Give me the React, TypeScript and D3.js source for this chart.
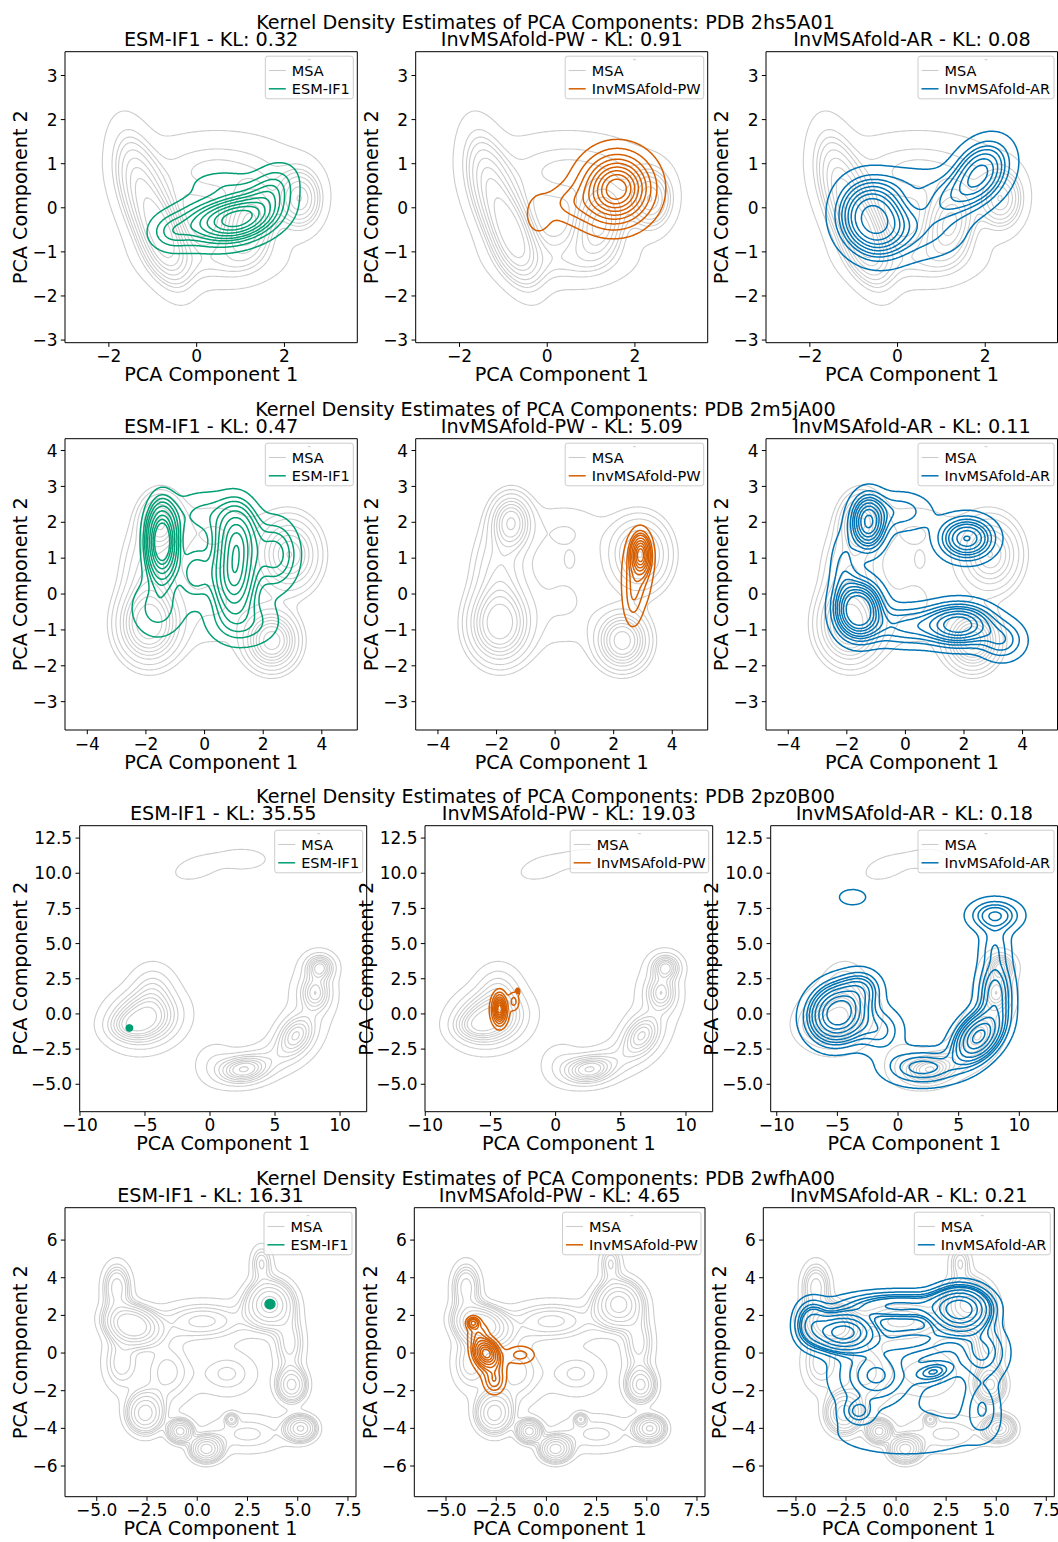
import React, { useMemo } from "react";
import * as d3 from "d3";

// ---------------- data ----------------
const PDB_IDS = ["2hs5A01", "2m5jA00", "2pz0B00", "2wfhA00"];
const MODELS = ["ESM-IF1", "InvMSAfold-PW", "InvMSAfold-AR"];
const KL_VALUES = [
  ["0.32", "0.91", "0.08"],
  ["0.47", "5.09", "0.11"],
  ["35.55", "19.03", "0.18"],
  ["16.31", "4.65", "0.21"],
];
const X_TICKS = [
  [-2, 0, 2],
  [-4, -2, 0, 2, 4],
  [-10, -5, 0, 5, 10],
  [-5, -2.5, 0, 2.5, 5, 7.5],
];
const Y_TICKS = [
  [-3, -2, -1, 0, 1, 2, 3],
  [-3, -2, -1, 0, 1, 2, 3, 4],
  [-5, -2.5, 0, 2.5, 5, 7.5, 10, 12.5],
  [-6, -4, -2, 0, 2, 4, 6],
];
const X_TICK_DECIMALS = [0, 0, 0, 1];
const Y_TICK_DECIMALS = [0, 0, 1, 0];
const X_DOMAINS = [
  [[-3.0, 3.66], [-3.0, 3.66], [-3.0, 3.66]],
  [[-4.76, 5.21], [-4.76, 5.21], [-4.76, 5.21]],
  [[-10.02, 12.05], [-10.02, 12.05], [-10.5, 13.19]],
  [[-6.58, 7.9], [-6.58, 7.9], [-6.63, 7.9]],
];
const Y_DOMAINS = [
  [-3.06, 3.54],
  [-3.79, 4.33],
  [-6.95, 13.38],
  [-7.63, 7.72],
];

// Gaussian mixture components: [mx, my, sx, sy, rho, weight]
type Comp = number[];
const MSA_2HS5: Comp[] = [
  [-0.8, -0.6, 0.35, 0.65, -0.5, 0.25],
  [-1.35, 0.6, 0.35, 0.75, -0.4, 0.15],
  [1.2, -0.35, 0.35, 0.5, 0.2, 0.15],
  [2.35, 0.2, 0.3, 0.4, 0, 0.1],
  [0.5, 0.85, 1.1, 0.5, 0, 0.15],
  [0.4, -1.15, 0.9, 0.38, 0, 0.1],
  [0.2, 0, 1.4, 1.0, 0, 0.1],
];
const ESM_2HS5: Comp[] = [
  [0.95, -0.25, 0.55, 0.33, 0.3, 0.62],
  [0.0, -0.3, 0.5, 0.35, 0.3, 0.15],
  [1.7, 0.4, 0.35, 0.35, 0.3, 0.12],
  [-0.6, -0.55, 0.3, 0.25, 0, 0.05],
  [0.6, 0.55, 0.5, 0.2, 0, 0.04],
];
const PW_2HS5: Comp[] = [
  [1.6, 0.45, 0.45, 0.45, 0, 0.8],
  [1.2, 0.1, 0.5, 0.4, 0, 0.1],
  [-0.2, -0.15, 0.2, 0.3, 0, 0.025],
  [0.5, 0.1, 0.35, 0.25, 0, 0.04],
];
const AR_2HS5: Comp[] = [
  [-0.55, -0.25, 0.45, 0.48, -0.1, 0.52],
  [1.9, 0.85, 0.4, 0.42, 0.3, 0.2],
  [1.3, 0.2, 0.6, 0.4, 0.5, 0.13],
  [0.5, -0.6, 0.7, 0.38, 0, 0.1],
  [0.3, 0.55, 0.7, 0.28, 0, 0.05],
];

const MSA_2M5J: Comp[] = [
  [-1.9, -0.85, 0.6, 0.6, 0, 0.25],
  [-1.5, 2.0, 0.4, 0.45, 0, 0.1],
  [-1.9, 0.6, 0.55, 0.8, 0, 0.1],
  [2.3, -1.3, 0.5, 0.45, 0, 0.15],
  [2.9, 1.1, 0.6, 0.6, 0, 0.17],
  [0.5, 0.95, 0.1, 0.13, 0, 0.0007],
  [0.3, -0.2, 1.2, 1.0, 0, 0.1],
  [0.3, 1.8, 1.2, 0.6, 0, 0.05],
];
const ESM_2M5J: Comp[] = [
  [-1.45, 1.45, 0.3, 0.6, 0, 0.26],
  [1.1, 1.5, 0.42, 0.6, 0, 0.2],
  [1.0, 0.4, 0.42, 0.6, 0, 0.2],
  [2.4, 1.1, 0.5, 0.6, 0, 0.1],
  [-1.6, -0.4, 0.6, 0.55, 0, 0.06],
  [1.3, -0.8, 0.8, 0.45, 0, 0.07],
  [0.0, 2.2, 0.8, 0.45, 0, 0.06],
  [-0.3, 0.6, 0.4, 0.5, 0, 0.05],
];
const PW_2M5J: Comp[] = [
  [2.92, 1.1, 0.18, 0.3, 0, 0.6],
  [2.8, 0.6, 0.28, 0.55, 0, 0.3],
  [2.65, -0.2, 0.2, 0.45, 0, 0.1],
];
const AR_2M5J: Comp[] = [
  [-1.6, -0.45, 0.45, 0.45, 0, 0.25],
  [1.85, -0.85, 0.7, 0.35, 0, 0.2],
  [-1.27, 2.0, 0.35, 0.45, 0, 0.14],
  [2.1, 1.55, 0.55, 0.35, 0, 0.14],
  [0.0, -0.9, 0.9, 0.35, 0, 0.1],
  [3.3, -1.3, 0.5, 0.35, 0, 0.05],
  [-0.2, 2.3, 0.7, 0.35, 0, 0.05],
  [-2.1, 0.6, 0.3, 0.7, 0, 0.04],
];

const MSA_2PZ0: Comp[] = [
  [-5.0, -0.3, 1.5, 1.1, 0.1, 0.36],
  [-4.4, 1.8, 1.0, 1.0, 0, 0.06],
  [-6.3, -0.9, 1.0, 0.6, 0, 0.04],
  [2.55, -3.95, 1.1, 0.6, 0.15, 0.12],
  [4.8, -3.2, 1.5, 0.9, 0.4, 0.06],
  [6.6, -1.5, 0.9, 0.9, 0.3, 0.12],
  [8.1, 1.5, 0.7, 0.8, 0, 0.08],
  [8.45, 3.3, 0.65, 0.55, 0, 0.06],
  [7.8, 1.0, 1.3, 2.0, 0, 0.05],
  [-1.0, 10.4, 1.2, 0.6, 0.4, 0.016],
  [2.5, 11.0, 1.4, 0.55, 0, 0.016],
  [0.5, -3.6, 1.0, 0.9, 0, 0.03],
];
const ESM_2PZ0: Comp[] = [[-6.2, -1.0, 0.1, 0.09, 0, 1]];
const PW_2PZ0: Comp[] = [
  [-4.3, 0.35, 0.25, 0.5, 0, 0.6],
  [-4.3, 0.3, 0.4, 0.7, 0, 0.3],
  [-3.2, 0.9, 0.25, 0.4, 0, 0.06],
  [-2.9, 1.6, 0.08, 0.12, 0, 0.01],
];
const AR_2PZ0: Comp[] = [
  [-4.9, 0.05, 1.4, 1.2, 0.1, 0.36],
  [6.6, -1.65, 1.2, 1.1, 0.4, 0.22],
  [8.0, 1.5, 0.9, 1.5, 0, 0.1],
  [8.0, 7.0, 1.3, 0.7, 0, 0.06],
  [8.0, 4.8, 0.8, 1.0, 0, 0.025],
  [2.0, -3.8, 2.0, 0.8, 0, 0.09],
  [-3.75, 8.3, 0.9, 0.45, 0, 0.008],
  [-1.5, -1.2, 1.2, 1.0, 0, 0.05],
  [-3.0, 1.8, 1.0, 0.8, 0, 0.04],
];

const MSA_2WFH: Comp[] = [
  [-3.25, 1.5, 0.75, 0.6, -0.2, 0.14],
  [-4.0, 3.5, 0.45, 0.8, 0, 0.04],
  [3.6, 2.6, 0.7, 0.75, 0, 0.13],
  [3.2, 4.8, 0.35, 0.6, 0, 0.015],
  [-2.6, -3.2, 0.55, 0.65, 0, 0.07],
  [-0.85, -4.15, 0.35, 0.35, 0, 0.03],
  [0.45, -5.1, 0.45, 0.4, 0, 0.045],
  [1.7, -3.5, 0.2, 0.2, 0, 0.003],
  [4.7, -1.7, 0.45, 0.55, 0, 0.045],
  [5.15, -4.0, 0.45, 0.4, 0, 0.04],
  [1.5, -1.1, 1.0, 0.8, 0, 0.04],
  [0.3, 1.7, 1.5, 0.7, 0, 0.08],
  [-1.5, -1.0, 0.9, 1.2, 0, 0.07],
  [2.5, -4.3, 1.4, 0.7, 0, 0.05],
  [4.6, 0.5, 0.5, 1.0, 0, 0.04],
  [-3.8, -0.5, 0.6, 1.0, 0, 0.04],
];
const ESM_2WFH: Comp[] = [[3.62, 2.6, 0.1, 0.1, 0, 1]];
const PW_2WFH: Comp[] = [
  [-3.0, 0.0, 0.3, 0.35, -0.2, 0.4],
  [-2.9, -0.3, 0.45, 0.6, -0.3, 0.25],
  [-3.65, 1.6, 0.18, 0.18, 0, 0.04],
  [-2.6, -1.5, 0.3, 0.4, 0, 0.08],
  [-1.3, -0.1, 0.45, 0.3, 0, 0.06],
  [-3.4, 1.0, 0.3, 0.4, 0, 0.06],
];
const AR_2WFH: Comp[] = [
  [-2.65, 1.1, 0.85, 0.55, 0, 0.18],
  [3.2, 2.3, 0.8, 0.65, 0, 0.21],
  [0.2, 2.5, 1.8, 0.45, 0, 0.1],
  [1.9, -1.0, 0.6, 0.35, 0.3, 0.015],
  [-1.9, -3.1, 0.45, 0.4, 0, 0.01],
  [4.3, -2.9, 0.55, 0.9, 0, 0.025],
  [0.5, -4.3, 2.8, 0.9, 0, 0.07],
  [-1.0, -1.2, 1.3, 1.1, 0, 0.12],
  [4.3, 0.0, 0.8, 0.9, 0, 0.05],
  [-4.2, 1.6, 0.5, 0.7, 0, 0.04],
  [1.0, 0.7, 1.5, 0.6, 0, 0.06],
];

const MSA_MIXTURES = [MSA_2HS5, MSA_2M5J, MSA_2PZ0, MSA_2WFH];
const MODEL_MIXTURES = [
  [ESM_2HS5, PW_2HS5, AR_2HS5],
  [ESM_2M5J, PW_2M5J, AR_2M5J],
  [ESM_2PZ0, PW_2PZ0, AR_2PZ0],
  [ESM_2WFH, PW_2WFH, AR_2WFH],
];

// ---------------- style / layout ----------------
const MODEL_COLORS = ["#029e73", "#d55e00", "#0173b2"];
const MSA_COLOR = "#cccccc";
const FONT = "DejaVu Sans";
const ROW_LAYOUT = [
  { top: 51.7, bottom: 342.7, xs: [[65, 357.3], [415.7, 707.7], [766, 1058]], ylabOff: 37.7 },
  { top: 438.7, bottom: 730, xs: [[65, 357.3], [415.7, 707.7], [766, 1058]], ylabOff: 37.7 },
  { top: 825.7, bottom: 1111.7, xs: [[79.7, 366.7], [425, 712.7], [770.7, 1058]], ylabOff: 52.5 },
  { top: 1207.7, bottom: 1496.7, xs: [[65, 356], [414.3, 705], [763.3, 1054.3]], ylabOff: 37.7 },
];
const LEGEND_W = [88, 138.5, 136];
const LEVEL_COUNT = 10;
const THRESH = 0.05;
const TICK_FS = 17;

function fmtTick(v: number, dec: number) {
  const s = Math.abs(v).toFixed(dec);
  return (v < 0 ? "\u2212" : "") + s;
}

type Geo = number[][][][]; // polygons -> rings -> points (data coords)

function kdeContours(comps: Comp[], n = 220): Geo[] {
  let x0 = Infinity, x1 = -Infinity, y0 = Infinity, y1 = -Infinity;
  for (const c of comps) {
    x0 = Math.min(x0, c[0] - 4.5 * c[2]);
    x1 = Math.max(x1, c[0] + 4.5 * c[2]);
    y0 = Math.min(y0, c[1] - 4.5 * c[3]);
    y1 = Math.max(y1, c[1] + 4.5 * c[3]);
  }
  const nx = n, ny = n;
  const dx = (x1 - x0) / (nx - 1), dy = (y1 - y0) / (ny - 1);
  const pre = comps.map(([mx, my, sx, sy, r, w]) => {
    const k = 1 - r * r;
    return { mx, my, sx, sy, r, k, a: w / (2 * Math.PI * sx * sy * Math.sqrt(k)) };
  });
  const vals = new Array(nx * ny);
  for (let j = 0; j < ny; j++) {
    const y = y0 + j * dy;
    for (let i = 0; i < nx; i++) {
      const x = x0 + i * dx;
      let s = 0;
      for (const c of pre) {
        const u = (x - c.mx) / c.sx, v = (y - c.my) / c.sy;
        const z = (u * u - 2 * c.r * u * v + v * v) / c.k;
        if (z < 80) s += c.a * Math.exp(-0.5 * z);
      }
      vals[j * nx + i] = s;
    }
  }
  const sorted = Float64Array.from(vals).sort().reverse();
  let total = 0;
  for (let i = 0; i < sorted.length; i++) total += sorted[i];
  const cum = new Float64Array(sorted.length);
  let acc = 0;
  for (let i = 0; i < sorted.length; i++) { acc += sorted[i]; cum[i] = acc / total; }
  const qs = d3.range(LEVEL_COUNT).map((i) => THRESH + (i * (1 - THRESH)) / (LEVEL_COUNT - 1));
  const levels = qs.slice(0, -1).map((q) => {
    let idx = d3.bisectLeft(cum as any, 1 - q);
    idx = Math.min(idx, sorted.length - 1);
    return sorted[idx];
  });
  const cs = d3.contours().size([nx, ny]).thresholds(levels)(vals);
  return cs.map((c: any) =>
    c.coordinates.map((poly: number[][][]) =>
      poly.map((ring: number[][]) => ring.map(([gx, gy]) => [x0 + (gx - 0.5) * dx, y0 + (gy - 0.5) * dy]))
    )
  );
}

function geoPath(geo: Geo, sx: (v: number) => number, sy: (v: number) => number) {
  let d = "";
  for (const poly of geo)
    for (const ring of poly) {
      d += "M" + ring.map((p) => sx(p[0]).toFixed(2) + "," + sy(p[1]).toFixed(2)).join("L") + "Z";
    }
  return d;
}

function Panel({ row, col, msaGeo, modelGeo }: any) {
  const lay = ROW_LAYOUT[row];
  const [left, right] = lay.xs[col];
  const top = lay.top, bottom = lay.bottom;
  const xs = d3.scaleLinear().domain(X_DOMAINS[row][col]).range([left, right]);
  const ys = d3.scaleLinear().domain(Y_DOMAINS[row]).range([bottom, top]);
  const clipId = `clip-${row}-${col}`;
  const color = MODEL_COLORS[col];
  const lw = LEGEND_W[col];
  const boxR = right - 4;
  const boxL = boxR - lw;
  const boxT = top + 4.5;
  const rightSpine = Math.min(right, 1057.5);
  return (
    <g>
      <clipPath id={clipId}>
        <rect x={left} y={top} width={right - left} height={bottom - top} />
      </clipPath>
      <g clipPath={`url(#${clipId})`} fill="none" strokeLinejoin="round">
        {msaGeo.map((g: Geo, i: number) => (
          <path key={"m" + i} d={geoPath(g, xs, ys)} stroke={MSA_COLOR} strokeWidth={1.1} />
        ))}
        {modelGeo.map((g: Geo, i: number) => (
          <path key={"g" + i} d={geoPath(g, xs, ys)} stroke={color} strokeWidth={1.5} />
        ))}
      </g>
      <path
        d={`M${left},${top}H${rightSpine}V${bottom}H${left}Z`}
        fill="none"
        stroke="#000"
        strokeWidth={1}
      />
      {X_TICKS[row].map((t) => (
        <g key={"xt" + t}>
          <line x1={xs(t)} x2={xs(t)} y1={bottom} y2={bottom + 4.2} stroke="#000" strokeWidth={1} />
          <text x={xs(t)} y={bottom + 19.5} textAnchor="middle" fontSize={TICK_FS} fontFamily={FONT}>
            {fmtTick(t, X_TICK_DECIMALS[row])}
          </text>
        </g>
      ))}
      {Y_TICKS[row].map((t) => (
        <g key={"yt" + t}>
          <line x1={left - 4.2} x2={left} y1={ys(t)} y2={ys(t)} stroke="#000" strokeWidth={1} />
          <text x={left - 7.5} y={ys(t) + 6.1} textAnchor="end" fontSize={TICK_FS} fontFamily={FONT}>
            {fmtTick(t, Y_TICK_DECIMALS[row])}
          </text>
        </g>
      ))}
      <text x={(left + right) / 2} y={bottom + 38.5} textAnchor="middle" fontSize={19.2} fontFamily={FONT}>
        PCA Component 1
      </text>
      <text
        transform={`translate(${left - lay.ylabOff},${(top + bottom) / 2}) rotate(-90)`}
        textAnchor="middle"
        fontSize={19.2}
        fontFamily={FONT}
      >
        PCA Component 2
      </text>
      <text x={(left + right) / 2} y={top - 5.3} textAnchor="middle" fontSize={19.2} fontFamily={FONT}>
        {`${MODELS[col]} - KL: ${KL_VALUES[row][col]}`}
      </text>
      <g>
        <rect x={boxL} y={boxT} width={lw} height={42.6} rx={2.5} fill="#fff" fillOpacity={0.8} stroke="#cccccc" strokeWidth={1} />
        <line x1={(boxL + boxR) / 2 - 1.5} x2={(boxL + boxR) / 2 + 1.5} y1={boxT + 3.5} y2={boxT + 3.5} stroke="#cccccc" strokeWidth={1} />
        <line x1={boxL + 3.5} x2={boxL + 20.5} y1={boxT + 14.3} y2={boxT + 14.3} stroke={MSA_COLOR} strokeWidth={1.1} />
        <text x={boxL + 26.5} y={boxT + 14.3 + 5.2} fontSize={14.5} fontFamily={FONT}>MSA</text>
        <line x1={boxL + 3.5} x2={boxL + 20.5} y1={boxT + 32.6} y2={boxT + 32.6} stroke={color} strokeWidth={1.5} />
        <text x={boxL + 26.5} y={boxT + 32.6 + 5.2} fontSize={14.5} fontFamily={FONT}>{MODELS[col]}</text>
      </g>
    </g>
  );
}

export default function App() {
  const geos = useMemo(() => {
    return PDB_IDS.map((_, r) => ({
      msa: kdeContours(MSA_MIXTURES[r]),
      models: MODEL_MIXTURES[r].map((m) => kdeContours(m)),
    }));
  }, []);
  return (
    <svg
      width={1058}
      height={1542}
      viewBox="0 0 1058 1542"
      style={{ position: "absolute", left: 0, top: 0, display: "block", background: "#fff" }}
    >
      <rect width={1058} height={1542} fill="#fff" />
      {PDB_IDS.map((pdb, r) => (
        <g key={pdb}>
          <text x={545.5} y={ROW_LAYOUT[r].top - 22.3} textAnchor="middle" fontSize={19.2} fontFamily={FONT}>
            {`Kernel Density Estimates of PCA Components: PDB ${pdb}`}
          </text>
          {MODELS.map((m, c) => (
            <Panel key={m} row={r} col={c} msaGeo={geos[r].msa} modelGeo={geos[r].models[c]} />
          ))}
        </g>
      ))}
    </svg>
  );
}
